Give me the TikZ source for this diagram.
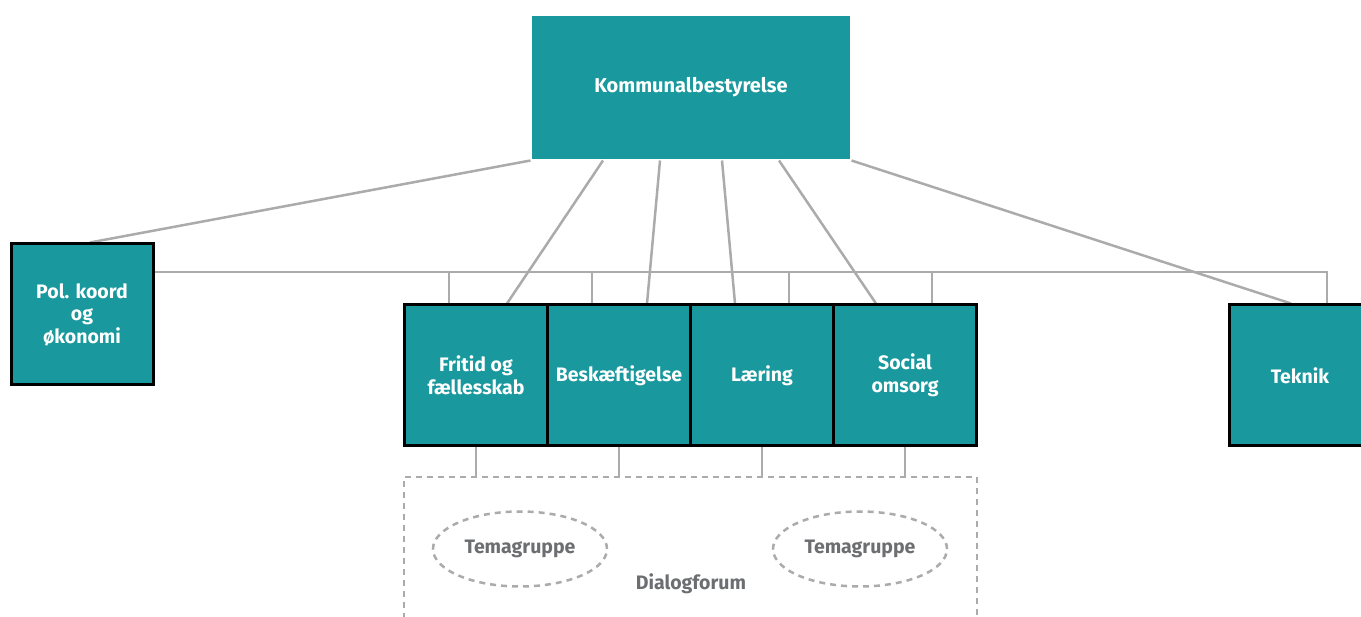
\documentclass[tikz,border=0pt]{standalone}
\usepackage{fontspec}
\setmainfont{Fira Sans}
\usetikzlibrary{shapes.geometric,backgrounds}
\definecolor{petrol}{HTML}{19989D}
\definecolor{linjegraa}{HTML}{ABABAB}
\definecolor{tekstgraa}{HTML}{6D6E71}
\begin{document}
\begin{tikzpicture}[x=1pt,y=-1pt,
        boks/.style={draw=black,line width=3pt,fill=petrol,text=white,align=center,
            font=\bfseries\fontsize{19.5}{22.5}\selectfont,
            minimum width=143pt,minimum height=141pt,inner sep=0pt},
        linje/.style={draw=linjegraa,line width=2.5pt},
        stiplet/.style={draw=linjegraa,line width=2.5pt,dash pattern=on 6pt off 5pt},
        graatekst/.style={text=tekstgraa,font=\bfseries\fontsize{19.5}{22}\selectfont}]
        \useasboundingbox (0,0) rectangle (1361,617);

        % Kommunalbestyrelsen oeverst
        \node[boks,draw=none,minimum width=318pt,minimum height=143pt,font=\bfseries\fontsize{20}{24}\selectfont] (kommune) at (691,87.5) {Kommunalbestyrelse};

        % Udvalgene
        \node[boks,minimum width=142pt] (polkoord) at (82,314.5) {Pol. koord\\og\\økonomi};
        \node[boks] (fritid) at (476,375.5) {Fritid og\\fællesskab};
        \node[boks] (beskaeft) at (619,375.5) {Beskæftigelse};
        \node[boks] (laering) at (762,375.5) {Læring};
        \node[boks] (social) at (905,375.5) {Social\\omsorg};
        \node[boks,minimum width=142pt] (teknik) at (1300,375.5) {Teknik};

        % Dialogforum med temagrupper
        \node[stiplet,minimum width=573pt,minimum height=170pt] (dialog) at (690.5,562) {};
        \node[graatekst] (dialogtekst) at (691,584) {Dialogforum};
        \node[stiplet,ellipse,graatekst,minimum width=174pt,minimum height=75pt] (tema1) at (520,549) {Temagruppe};
        \node[stiplet,ellipse,graatekst,minimum width=174pt,minimum height=75pt] (tema2) at (860,549) {Temagruppe};

        \begin{scope}[on background layer]
            % Linjer fra kommunalbestyrelsen
            \draw[linje] (kommune.south west) -- ([xshift=8pt]polkoord.north);
            \draw[linje] ([xshift=-88pt]kommune.south) -- ([xshift=31pt]fritid.north);
            \draw[linje] ([xshift=-31pt]kommune.south) -- ([xshift=28pt]beskaeft.north);
            \draw[linje] ([xshift=31pt]kommune.south) -- ([xshift=-27pt]laering.north);
            \draw[linje] ([xshift=88pt]kommune.south) -- ([xshift=-29pt]social.north);
            \draw[linje] (kommune.south east) -- ([xshift=-9pt]teknik.north);

            % Tvaerlinjen
            \coordinate (tvaer) at (0,272);
            \draw[linje] (polkoord.east |- tvaer) -- ([xshift=27pt]teknik.north |- tvaer) -- ([xshift=27pt]teknik.north);
            \draw[linje] ([xshift=-27pt]fritid.north |- tvaer) -- ([xshift=-27pt]fritid.north);
            \draw[linje] ([xshift=-27pt]beskaeft.north |- tvaer) -- ([xshift=-27pt]beskaeft.north);
            \draw[linje] ([xshift=27pt]laering.north |- tvaer) -- ([xshift=27pt]laering.north);
            \draw[linje] ([xshift=27pt]social.north |- tvaer) -- ([xshift=27pt]social.north);

            % Ned til dialogforum
            \draw[linje] (fritid.south) -- (fritid.south |- dialog.north);
            \draw[linje] (beskaeft.south) -- (beskaeft.south |- dialog.north);
            \draw[linje] (laering.south) -- (laering.south |- dialog.north);
            \draw[linje] (social.south) -- (social.south |- dialog.north);
        \end{scope}
    \end{tikzpicture}
\end{document}
